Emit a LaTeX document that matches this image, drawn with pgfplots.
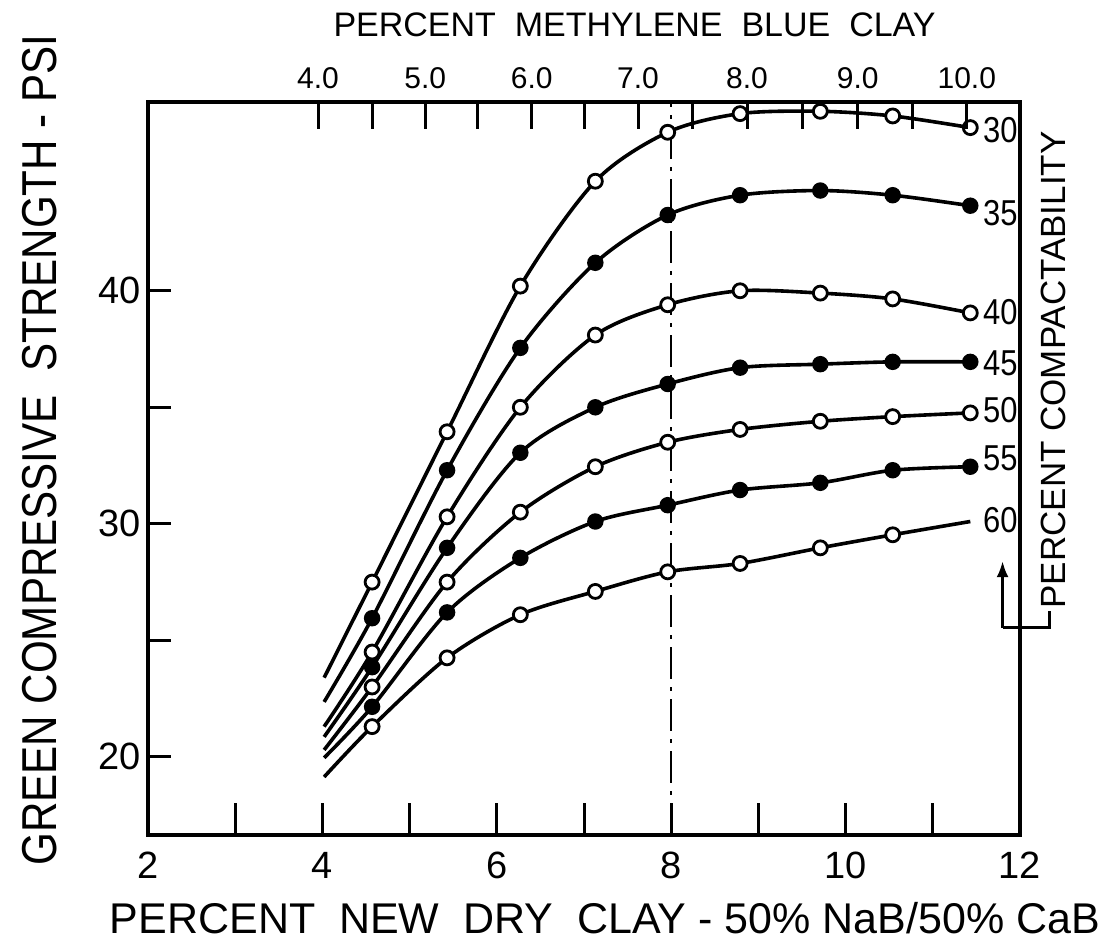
\documentclass[border=0pt]{standalone}
\usepackage{fontspec}
\setmainfont{Liberation Sans}
\newfontfamily\narrowfont[FakeStretch=0.86]{Liberation Sans}
\usepackage{pgfplots}
\pgfplotsset{compat=1.18}
\usetikzlibrary{arrows.meta}

\pgfplotsset{
  opencurve/.style={black, line width=1.8pt, smooth, tension=0.5, mark=*, mark size=3.5pt,
    mark indices={2,...,10}, mark options={fill=white, draw=black, line width=1.4pt, solid}},
  filledcurve/.style={black, line width=1.8pt, smooth, tension=0.5, mark=*, mark size=3.2pt,
    mark indices={2,...,10}, mark options={fill=black, draw=black, solid}},
}

\begin{document}
\begin{tikzpicture}
\path[use as bounding box] (0pt,0pt) rectangle (557.5pt,472.5pt);
\begin{axis}[
  at={(74pt,55pt)}, anchor=south west,
  scale only axis, width=436pt, height=366.5pt,
  xmin=2, xmax=12, ymin=16.65, ymax=48.1,
  axis line style={line width=2pt},
  tick align=inside,
  xtick pos=bottom, ytick pos=left,
  xtick={2,4,...,12}, xticklabels={2,4,6,8,10,12},
  minor xtick={3,...,11},
  ytick={20,25,...,40}, yticklabels={20,,30,,40},
  major tick length=11.5pt, minor tick length=16pt,
  major tick style={black, line width=1.5pt},
  minor tick style={black, line width=1.5pt},
  tick label style={font=\fontsize{19}{21}\selectfont},
  xticklabel style={yshift=-5pt},
  clip=false,
]
% reference line at 8 percent
\addplot[black, line width=1.1pt, dash pattern=on 16pt off 4pt on 2pt off 4pt] coordinates {(8,16.65) (8,48.1)};

% 30 percent compactability
\addplot[opencurve] coordinates {(4.02,23.4) (4.57,27.5) (5.43,33.95) (6.27,40.2) (7.13,44.7) (7.96,46.8) (8.79,47.6) (9.71,47.7) (10.54,47.5) (11.43,47.0)};
% 35
\addplot[filledcurve] coordinates {(4.02,22.36) (4.57,25.95) (5.43,32.3) (6.27,37.55) (7.13,41.2) (7.96,43.25) (8.79,44.1) (9.71,44.3) (10.54,44.1) (11.43,43.65)};
% 40
\addplot[opencurve] coordinates {(4.02,21.3) (4.57,24.5) (5.43,30.3) (6.27,35.0) (7.13,38.1) (7.96,39.4) (8.79,40.0) (9.71,39.9) (10.54,39.65) (11.43,39.05)};
% 45
\addplot[filledcurve] coordinates {(4.02,20.86) (4.57,23.85) (5.43,28.97) (6.27,33.05) (7.13,35.0) (7.96,36.0) (8.79,36.7) (9.71,36.85) (10.54,36.95) (11.43,36.95)};
% 50
\addplot[opencurve] coordinates {(4.02,20.3) (4.57,23.0) (5.43,27.5) (6.27,30.5) (7.13,32.45) (7.96,33.5) (8.79,34.05) (9.71,34.4) (10.54,34.6) (11.43,34.76)};
% 55
\addplot[filledcurve] coordinates {(4.02,19.96) (4.57,22.15) (5.43,26.2) (6.27,28.54) (7.13,30.1) (7.96,30.8) (8.79,31.45) (9.71,31.76) (10.54,32.3) (11.43,32.45)};
% 60
\addplot[opencurve, mark indices={2,...,9}] coordinates {(4.02,19.14) (4.57,21.3) (5.43,24.25) (6.27,26.1) (7.13,27.1) (7.96,27.94) (8.79,28.3) (9.71,28.97) (10.54,29.53) (11.43,30.1)};

% curve labels
\begin{scope}[every node/.style={anchor=west, font=\narrowfont\fontsize{18}{19}\selectfont, inner sep=1pt}]
\node at (axis cs:11.55,46.9) {30};
\node at (axis cs:11.55,43.35) {35};
\node at (axis cs:11.55,39.1) {40};
\node at (axis cs:11.55,36.9) {45};
\node at (axis cs:11.55,34.9) {50};
\node at (axis cs:11.55,32.83) {55};
\node at (axis cs:11.55,30.17) {60};
\end{scope}

% compactability bracket and arrow
\draw[black, line width=1.4pt] (axis cs:12.34,26.25) -- (axis cs:12.34,25.54) -- (axis cs:11.8,25.54);
\draw[black, line width=1.4pt, -{Latex[length=8pt,width=6pt]}] (axis cs:11.8,25.54) -- (axis cs:11.8,28.4);
\node[rotate=90, anchor=west, inner sep=0pt, font=\fontsize{17.5}{18}\selectfont] at (axis cs:12.38,26.35) {PERCENT COMPACTABILITY};

% axis titles
\node[font=\fontsize{21.5}{24}\selectfont] at (axis description cs:0.524,-0.113) {PERCENT\ \ NEW\ \ DRY\ \ CLAY - 50\% NaB/50\% CaB};
\node[rotate=90, font=\narrowfont\fontsize{24.5}{26}\selectfont] at (axis description cs:-0.124,0.525) {GREEN COMPRESSIVE\ \ STRENGTH - PSI};
\node[font=\fontsize{17}{18}\selectfont] at (axis description cs:0.558,1.105) {PERCENT\ \ METHYLENE\ \ BLUE\ \ CLAY};
\end{axis}

% top scale: percent methylene blue clay
\begin{axis}[
  at={(74pt,55pt)}, anchor=south west,
  scale only axis, width=436pt, height=366.5pt,
  xmin=2, xmax=12, ymin=0, ymax=1,
  axis x line*=top, axis y line=none,
  axis line style={line width=2pt, -},
  tick align=inside,
  major tick length=13.5pt,
  major tick style={black, line width=1.5pt},
  xtick={3.95,4.57,5.18,5.78,6.40,7.01,7.62,8.24,8.87,9.50,10.14,10.77,11.39},
  xticklabels={4.0,,5.0,,6.0,,7.0,,8.0,,9.0,,10.0},
  xticklabel style={font=\fontsize{15}{16}\selectfont, yshift=3pt},
]
\end{axis}
\end{tikzpicture}
\end{document}
